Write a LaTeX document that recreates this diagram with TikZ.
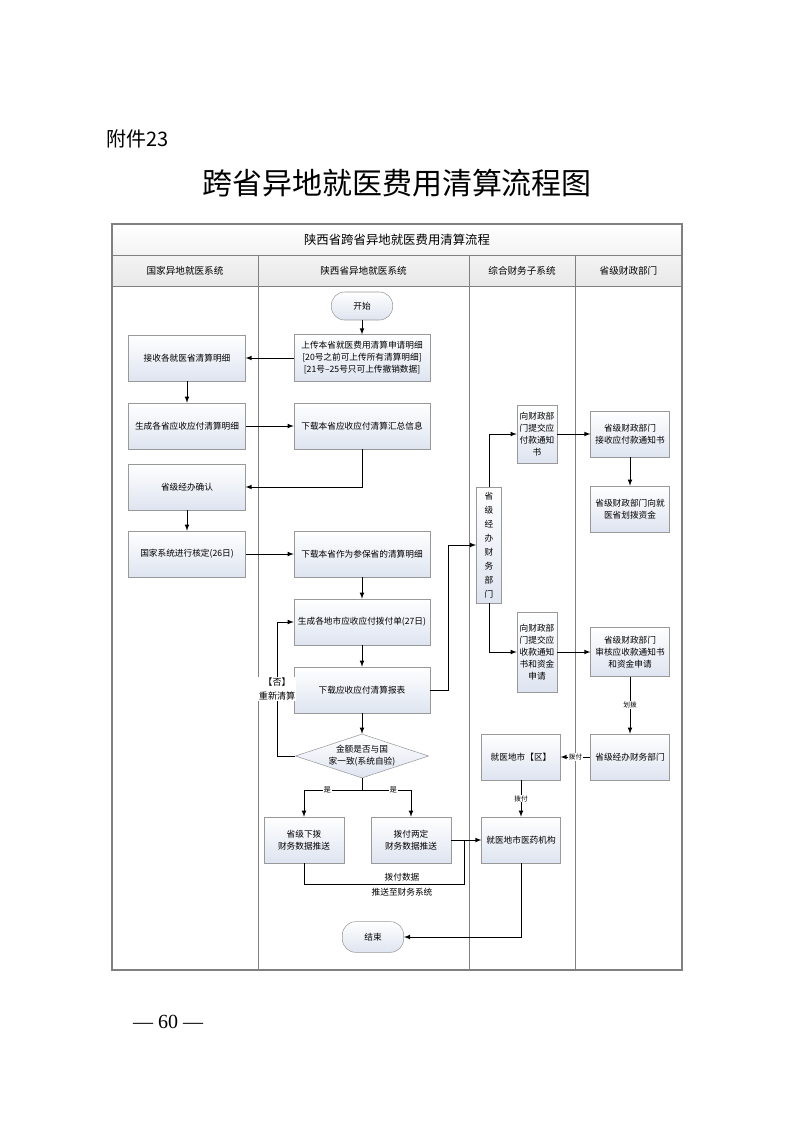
\documentclass[tikz,border=0pt]{standalone}
\usepackage{fontspec}
\setmainfont{Noto Sans CJK SC}
\newfontfamily\pagefont{Liberation Serif}
\usetikzlibrary{shapes.geometric}
\definecolor{boxblue}{RGB}{222,228,240}
\definecolor{framegray}{RGB}{128,128,128}

\begin{document}
\begin{tikzpicture}[x=0.75pt,y=-0.75pt,
  every node/.style={font=\fontsize{6.5}{9}\selectfont},
  box/.style={draw=black!40, top color=white, bottom color=boxblue, align=center, inner sep=1pt},
  lbox/.style={box, minimum width=87.5pt, minimum height=34.5pt},
  mbox/.style={box, minimum width=102pt, minimum height=34.5pt},
  rbox/.style={box, minimum width=59pt, minimum height=34.5pt},
  pill/.style={box, rounded corners=10pt, minimum width=46pt, minimum height=21pt},
  link/.style={draw, line width=0.6pt},
  arrow/.style={link, -latex},
  tag/.style={fill=white, inner sep=0.6pt, font=\fontsize{5}{6}\selectfont}]
\useasboundingbox (0,0) rectangle (793,1122);

% page head
\node[font=\fontsize{15}{15}\selectfont, anchor=west] (annex) at (102,139) {附件23};
\node[font=\fontsize{22.5}{24}\selectfont] (title) at (397,183) {跨省异地就医费用清算流程图};

% frame and lanes
\shade[top color=white, bottom color=gray!18] (112,224) rectangle (682,286);
\draw[framegray, line width=0.8pt] (112,224) rectangle (682,970);
\draw[framegray] (112,255) -- (682,255) (112,286) -- (682,286);
\foreach \x in {258,469,575}
\draw[framegray] (\x,255) -- (\x,970);
\node[font=\fontsize{9.3}{10}\selectfont] (flow) at (397,240) {陕西省跨省异地就医费用清算流程};
\node[font=\fontsize{7.2}{8}\selectfont] (laneA) at (185,271) {国家异地就医系统};
\node[font=\fontsize{7.2}{8}\selectfont] (laneB) at (363.5,271) {陕西省异地就医系统};
\node[font=\fontsize{7.2}{8}\selectfont] (laneC) at (522,271) {综合财务子系统};
\node[font=\fontsize{7.2}{8}\selectfont] (laneD) at (628.5,271) {省级财政部门};

% nodes
\node[pill] (start) at (362,306) {开始};
\node[mbox, minimum height=35pt] (upload) at (362,358) {上传本省就医费用清算申请明细\\{[}20号之前可上传所有清算明细{]}\\{[}21号--25号只可上传撤销数据{]}};
\node[lbox] (receive) at (187,358) {接收各就医省清算明细};
\node[lbox] (gensum) at (187,426) {生成各省应收应付清算明细};
\node[mbox] (dlsum) at (362,426) {下载本省应收应付清算汇总信息};
\node[lbox] (confirm) at (187,487) {省级经办确认};
\node[lbox] (verify) at (187,554) {国家系统进行核定(26日)};
\node[mbox] (dldetail) at (362,554) {下载本省作为参保省的清算明细};
\node[mbox] (genbill) at (362,622) {生成各地市应收应付拨付单(27日)};
\node[mbox] (dlreport) at (362,690) {下载应收应付清算报表};
\node[diamond, draw=black!40, top color=white, bottom color=boxblue, minimum width=100pt, minimum height=33pt, inner sep=0pt] (check) at (362,756) {};
\node[align=center] (checktext) at (check) {金额是否与国\\家一致(系统自验)};
\node[box, minimum width=60pt, minimum height=34.5pt] (push1) at (304,840) {省级下拨\\财务数据推送};
\node[box, minimum width=60pt, minimum height=34.5pt] (push2) at (411,840) {拨付两定\\财务数据推送};
\node[align=center, font=\fontsize{6.5}{11}\selectfont] (pushtext) at (402,885) {拨付数据\\推送至财务系统};
\node[pill, minimum height=23pt] (end) at (373,937) {结束};

\node[box, minimum width=19pt, minimum height=87pt, font=\fontsize{6.5}{10.5}\selectfont] (office) at (489,545) {省\\级\\经\\办\\财\\务\\部\\门};
\node[box, minimum width=30pt, minimum height=43.5pt] (payreq) at (537,434) {向财政部\\门提交应\\付款通知\\书};
\node[box, minimum width=30pt, minimum height=60pt] (recvreq) at (537,652) {向财政部\\门提交应\\收款通知\\书和资金\\申请};
\node[rbox] (fin1) at (630,434) {省级财政部门\\接收应付款通知书};
\node[rbox] (fin2) at (630,509) {省级财政部门向就\\医省划拨资金};
\node[rbox, minimum height=37pt] (fin3) at (630,652) {省级财政部门\\审核应收款通知书\\和资金申请};
\node[rbox] (finoffice) at (630,757) {省级经办财务部门};
\node[rbox] (city) at (521,757) {就医地市【区】};
\node[rbox] (hospital) at (521,840) {就医地市医药机构};

\node[font=\pagefont\fontsize{15}{15}\selectfont] (page) at (168,1022) {— 60 —};

% connectors
\draw[arrow] (start) -- (upload);
\draw[arrow] (upload) -- (receive);
\draw[arrow] (receive) -- (gensum);
\draw[arrow] (gensum) -- (dlsum);
\draw[arrow] (dlsum.south) |- (confirm.east);
\draw[arrow] (confirm) -- (verify);
\draw[arrow] (verify) -- (dldetail);
\draw[arrow] (dldetail) -- (genbill);
\draw[arrow] (genbill) -- (dlreport);
\draw[arrow] (dlreport) -- (check);
\draw[arrow] (check.west) -- ++(-18,0) |- node[tag, pos=0.25, align=center, font=\fontsize{6.8}{10}\selectfont] {【否】\\重新清算} (genbill.west);
\coordinate (fork) at (362,790);
\draw[link] (check.south) -- (fork);
\draw[arrow] (fork) -| node[tag, pos=0.3, font=\fontsize{5.5}{6}\selectfont] {是} (push1);
\draw[arrow] (fork) -| node[tag, pos=0.32, font=\fontsize{5.5}{6}\selectfont] {是} (push2);
\coordinate (pushjoin) at (464,840);
\draw[link] (push1.south) -- ++(0,21) -| (pushjoin);
\draw[arrow] (push2) -- (hospital);
\draw[arrow] (hospital.south) |- (end.east);

\draw[arrow] (dlreport.east) -- ++(18,0) |- (office.west);
\draw[arrow] (office.north) |- (payreq.west);
\draw[arrow] (payreq) -- (fin1);
\draw[arrow] (fin1) -- (fin2);
\draw[arrow] (office.south) |- (recvreq.west);
\draw[arrow] (recvreq) -- (fin3);
\draw[arrow] (fin3) -- node[tag] {划拨} (finoffice);
\draw[arrow] (finoffice) -- node[tag] {拨付} (city);
\draw[arrow] (city) -- node[tag] {拨付} (hospital);
\end{tikzpicture}
\end{document}
